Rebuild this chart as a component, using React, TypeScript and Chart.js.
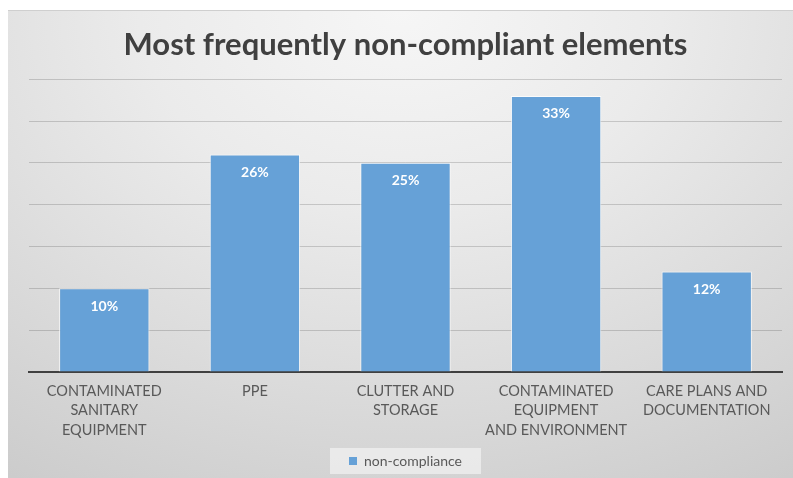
import React, { useEffect, useRef } from "react";
import { Chart, registerables } from "chart.js";

Chart.register(...registerables);

const categories: string[][] = [
  ["CONTAMINATED", "SANITARY", "EQUIPMENT"],
  ["PPE"],
  ["CLUTTER AND", "STORAGE"],
  ["CONTAMINATED", "EQUIPMENT", "AND ENVIRONMENT"],
  ["CARE PLANS AND", "DOCUMENTATION"],
];
const nonCompliance: number[] = [10, 26, 25, 33, 12];
const seriesLabel = "non-compliance";
const chartTitle = "Most frequently non-compliant elements";

const FONT = "Lato, 'Open Sans', sans-serif";
const BAR_BLUE = "#66a1d7";
const TEXT_GREY = "#595959";

// White percentage labels just inside the top of each bar
const valueLabels = {
  id: "valueLabels",
  afterDatasetsDraw(chart: Chart) {
    const { ctx } = chart;
    const meta = chart.getDatasetMeta(0);
    ctx.save();
    ctx.fillStyle = "#ffffff";
    ctx.font = `bold 14px ${FONT}`;
    ctx.textAlign = "center";
    ctx.textBaseline = "middle";
    meta.data.forEach((bar: any, i: number) => {
      const v = chart.data.datasets[0].data[i] as number;
      ctx.fillText(`${v}%`, bar.x, bar.y + 18);
    });
    ctx.restore();
  },
};

// Light panel behind the legend entry
const legendPanel = {
  id: "legendPanel",
  beforeDraw(chart: any) {
    const legend = chart.legend;
    if (!legend || !legend.legendHitBoxes || !legend.legendHitBoxes.length) return;
    const hb = legend.legendHitBoxes[0];
    const { ctx } = chart;
    ctx.save();
    ctx.fillStyle = "rgba(240,240,240,0.75)";
    ctx.fillRect(hb.left - 19, hb.top - 6, hb.width + 38, hb.height + 12);
    ctx.restore();
  },
};

export default function App() {
  const canvasRef = useRef<HTMLCanvasElement | null>(null);

  useEffect(() => {
    if (!canvasRef.current) return;
    const chart = new Chart(canvasRef.current, {
      type: "bar",
      data: {
        labels: categories,
        datasets: [
          {
            label: seriesLabel,
            data: nonCompliance,
            backgroundColor: BAR_BLUE,
            borderColor: "rgba(255,255,255,0.75)",
            borderWidth: 1,
            borderSkipped: "bottom",
            barPercentage: 0.6,
            categoryPercentage: 1,
          },
        ],
      },
      options: {
        animation: false,
        responsive: true,
        maintainAspectRatio: false,
        layout: { padding: { left: 21, right: 11, top: 0, bottom: 0 } },
        scales: {
          x: {
            grid: { display: false, drawTicks: false },
            border: { display: true, color: "#404040", width: 2 },
            ticks: {
              color: TEXT_GREY,
              font: { family: FONT, size: 14.5, lineHeight: 1.32 },
              padding: 10,
              maxRotation: 0,
              autoSkip: false,
            },
            afterFit(scale: any) {
              scale.height = 72;
            },
          },
          y: {
            min: 0,
            max: 35,
            ticks: { display: false, stepSize: 5 },
            grid: { color: "rgba(0,0,0,0.16)", lineWidth: 1, drawTicks: false },
            border: { display: false },
          },
        },
        plugins: {
          title: {
            display: true,
            text: chartTitle,
            color: "#404040",
            font: { family: FONT, size: 31, weight: "bold" },
            padding: { top: 15, bottom: 16 },
          },
          legend: {
            display: true,
            position: "bottom",
            labels: {
              boxWidth: 8,
              boxHeight: 8,
              color: TEXT_GREY,
              font: { family: FONT, size: 14 },
              padding: 10,
              generateLabels: (c: any) =>
                c.data.datasets.map((ds: any, i: number) => ({
                  text: ds.label,
                  fillStyle: BAR_BLUE,
                  strokeStyle: BAR_BLUE,
                  lineWidth: 0,
                  fontColor: TEXT_GREY,
                  datasetIndex: i,
                  hidden: false,
                })),
            },
          },
          tooltip: { enabled: false },
        },
      },
      plugins: [valueLabels, legendPanel],
    });
    return () => chart.destroy();
  }, []);

  return (
    <div
      style={{
        position: "absolute",
        left: 8,
        top: 10,
        width: 785,
        height: 468,
        boxSizing: "border-box",
        borderTop: "1px solid #cfcfcf",
        background:
          "radial-gradient(ellipse 95% 120% at 50% 0%, #f6f6f6 0%, #ebebeb 35%, #dadada 70%, #cbcbcb 100%)",
      }}
    >
      <div style={{ position: "relative", width: 785, height: 467 }}>
        <canvas ref={canvasRef} />
      </div>
    </div>
  );
}
